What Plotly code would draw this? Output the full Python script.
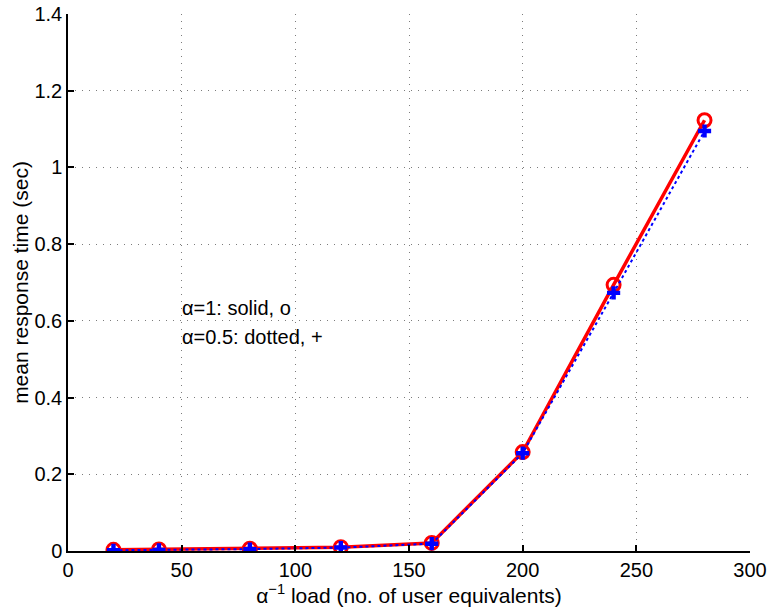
import plotly.graph_objects as go

load = [20, 40, 80, 120, 160, 200, 240, 280]
resp_alpha1 = [0.003, 0.004, 0.006, 0.010, 0.021, 0.258, 0.694, 1.123]
resp_alpha05 = [0.002, 0.003, 0.005, 0.009, 0.019, 0.255, 0.673, 1.095]

x_ticks = [0, 50, 100, 150, 200, 250, 300]
y_ticks = [0, 0.2, 0.4, 0.6, 0.8, 1.0, 1.2, 1.4]
y_tick_text = ["0", "0.2", "0.4", "0.6", "0.8", "1", "1.2", "1.4"]

fig = go.Figure()
fig.add_trace(go.Scatter(
    x=load, y=resp_alpha1, mode="lines+markers",
    line=dict(color="red", width=3.5),
    marker=dict(symbol="circle-open", size=13, color="red", line=dict(width=3, color="red")),
    showlegend=False))
fig.add_trace(go.Scatter(
    x=load, y=resp_alpha05, mode="lines+markers",
    line=dict(color="blue", width=2, dash="dot"),
    marker=dict(symbol="cross", size=11, color="blue", line=dict(width=0)),
    showlegend=False))

fig.add_annotation(x=50, y=0.633, xref="x", yref="y", text="α=1: solid, o",
                   showarrow=False, xanchor="left", xshift=-2, font=dict(size=20, color="black"))
fig.add_annotation(x=50, y=0.558, xref="x", yref="y", text="α=0.5: dotted, +",
                   showarrow=False, xanchor="left", xshift=-2, font=dict(size=20, color="black"))

axis_common = dict(
    showline=True, linecolor="black", linewidth=1.5, mirror=False,
    ticks="inside", ticklen=6, tickcolor="black", tickwidth=1.5,
    showgrid=True, gridcolor="rgba(110,110,110,0.9)", griddash="1px,6px", gridwidth=1,
    zeroline=False, tickfont=dict(size=20, color="black"), automargin=False,
)
fig.update_xaxes(range=[0, 300], tickvals=x_ticks, ticktext=[str(v) for v in x_ticks],
                 title=dict(text="α<sup>−1</sup> load (no. of user equivalents)",
                            font=dict(size=21, color="black"), standoff=2),
                 **axis_common)
fig.update_yaxes(range=[0, 1.4], tickvals=y_ticks, ticktext=y_tick_text,
                 title=dict(text="mean response time (sec)",
                            font=dict(size=21, color="black"), standoff=0),
                 **axis_common)

fig.update_layout(
    width=770, height=610,
    margin=dict(l=68, r=20, t=14, b=59),
    plot_bgcolor="white", paper_bgcolor="white",
    font=dict(family="Liberation Sans, Arial, sans-serif", color="black"),
)

fig.write_html("out.html", config={"displayModeBar": False},
               post_script="document.body.style.margin='0';")
